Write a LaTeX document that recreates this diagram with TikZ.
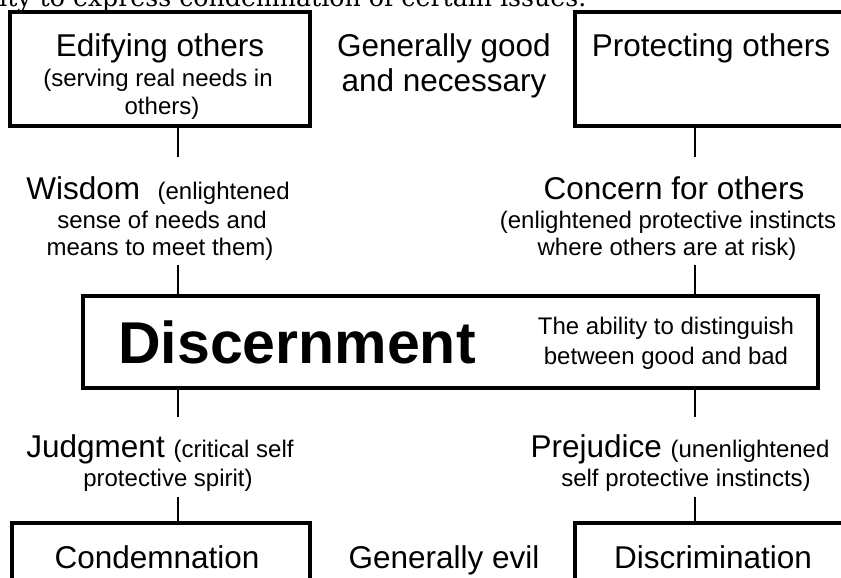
\documentclass[tikz,border=0pt]{standalone}
\usepackage{fontspec}
\setmainfont{Liberation Sans}
\newfontfamily\serifbody{DejaVu Serif}
\newcommand{\smallsz}{\fontsize{24}{28}\selectfont}
\begin{document}
\begin{tikzpicture}[x=1pt,y=-1pt,
  frame/.style={draw,line width=3.6pt,inner sep=0pt},
  link/.style={line width=1.4pt},
  big/.style={inner sep=0pt,text height=22.7pt,text depth=0pt,font=\fontsize{31.5}{36}\selectfont},
  small/.style={inner sep=0pt,text height=17.3pt,text depth=0pt,font=\smallsz},
  huge/.style={inner sep=0pt,text height=42.5pt,text depth=0pt,font=\fontsize{59}{66}\selectfont\bfseries}]
\useasboundingbox (0,0) rectangle (841,578);
\clip (0,0) rectangle (841,578);
% cut-off body text line at top
\node[anchor=base west,inner sep=0pt] (body) at (-1,7)
  {\resizebox{587pt}{!}{\serifbody ity to express condemnation of certain issues.}};
% boxes
\node[frame,minimum width=300pt,minimum height=114pt] (tl) at (160,69) {};
\node[frame,minimum width=330pt,minimum height=114pt] (tr) at (740,69) {};
\node[frame,minimum width=735pt,minimum height=92pt] (disc) at (450.5,342) {};
\node[frame,minimum width=298pt,minimum height=120pt] (bl) at (161,583) {};
\node[frame,minimum width=330pt,minimum height=120pt] (br) at (740,583) {};
% top texts
\node[big] (edif) at (160,45) {Edifying others};
\node[small] (edif2) at (158,78) {(serving real needs in};
\node[small] (edif3) at (162,106) {others)};
\node[big] (gg1) at (444,45) {Generally good};
\node[big] (gg2) at (444,80) {and necessary};
\node[big] (prot) at (711,45) {Protecting others};
% middle texts
\node[big] (wis) at (158,188) {Wisdom\ \ {\smallsz(enlightened}};
\node[small] (wis2) at (162,220) {sense of needs and};
\node[small] (wis3) at (160,247) {means to meet them)};
\node[big] (conc) at (674,188) {Concern for others};
\node[small] (conc2) at (668,220) {(enlightened protective instincts};
\node[small] (conc3) at (667,247) {where others are at risk)};
% discernment
\node[huge] (dtitle) at (297,342) {Discernment};
\node[small] (dsub1) at (666,326) {The ability to distinguish};
\node[small] (dsub2) at (666,356) {between good and bad};
% lower texts
\node[big] (judg) at (160,446) {Judgment {\smallsz(critical self}};
\node[small] (judg2) at (168,478) {protective spirit)};
\node[big] (prej) at (680,446) {Prejudice {\smallsz(unenlightened}};
\node[small] (prej2) at (686,478) {self protective instincts)};
% bottom texts
\node[big] (cond) at (157,557) {Condemnation};
\node[big] (gevil) at (444,557) {Generally evil};
\node[big] (discr) at (713,557) {Discrimination};
% connectors
\coordinate (a1) at (178,157); \coordinate (a2) at (178,265);
\coordinate (a3) at (178,417); \coordinate (a4) at (178,497);
\coordinate (b1) at (695,157); \coordinate (b2) at (695,265);
\coordinate (b3) at (695,417); \coordinate (b4) at (695,497);
\draw[link] (tl.south -| a1) -- (a1);
\draw[link] (a2) -- (disc.north -| a2);
\draw[link] (disc.south -| a3) -- (a3);
\draw[link] (a4) -- (bl.north -| a4);
\draw[link] (tr.south -| b1) -- (b1);
\draw[link] (b2) -- (disc.north -| b2);
\draw[link] (disc.south -| b3) -- (b3);
\draw[link] (b4) -- (br.north -| b4);
\end{tikzpicture}
\end{document}
